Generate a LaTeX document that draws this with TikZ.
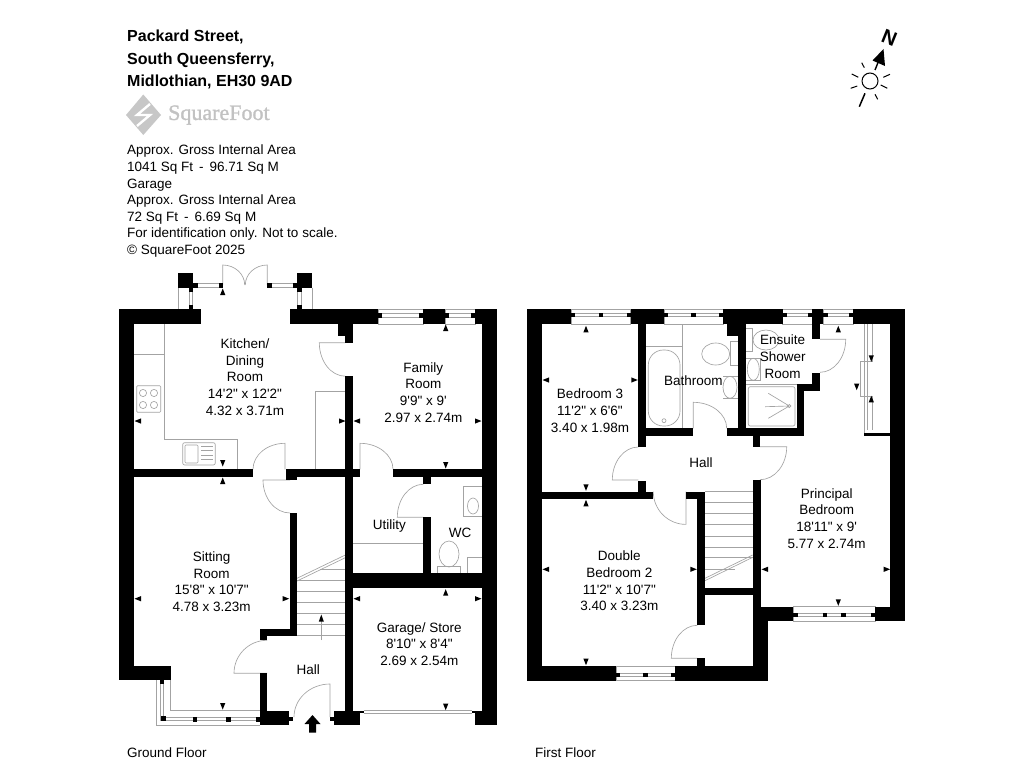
\documentclass[tikz,border=0pt]{standalone}
\usepackage{fontspec}
\setmainfont{Liberation Sans}
\newfontfamily\labelfont{Liberation Sans}
\newfontfamily\logofont[FakeBold=1.2]{Liberation Serif}
\tikzset{
  wall/.style={fill=black},
  fitting/.style={draw=black!36, line width=0.65pt},
  room/.style={align=center, inner sep=0pt, font=\fontsize{13.5}{16.6}\selectfont\labelfont},
  info/.style={align=left, anchor=north west, inner sep=0pt, font=\fontsize{13.5}{16.6}\selectfont\labelfont},
  ray/.style={draw=black, line width=1pt}
}
% door leaf and swing: centre, x radius, y radius, leaf angle, end angle
\newcommand{\swing}[6]{\draw[fitting] (#1,#2) -- ++(#5:#3pt and #4pt) arc[start angle=#5, end angle=#6, x radius=#3pt, y radius=#4pt];}
% dimension tick: position, direction
\newcommand{\tick}[3]{\fill[black, shift={(#1,#2)}, rotate=#3] (3.5pt,0pt) -- (-3pt,2.6pt) -- (-3pt,-2.6pt) -- cycle;}
% window: x from, x to, y top, y bottom, y middle
\newcommand{\winh}[5]{\draw[fitting] (#1,#3) rectangle (#2,#4) (#1,#5-1.7) -- (#2,#5-1.7) (#1,#5+1.7) -- (#2,#5+1.7);}
\newcommand{\jamb}[2]{\fill[black] (#1-2.2,#2-2.2) rectangle (#1+2.2,#2+2.2);}
\begin{document}
\begin{tikzpicture}[x=1pt, y=-1pt]
  \useasboundingbox (0,0) rectangle (1024,768);
  \fill[white] (0,0) rectangle (1024,768);

  % heading
  \node (title) [info, font=\fontsize{16}{22.4}\selectfont\labelfont\bfseries] at (127,30) {Packard Street,\\South Queensferry,\\Midlothian, EH30 9AD};
  \fill[black!22] (143.3,94.5) -- (161,115) -- (143.3,135) -- (126,115) -- cycle;
  \draw[white, line width=2.4pt] (150,104) -- (137,115) -- (150,115) -- (137,126);
  \node (logo) [anchor=west, inner sep=0pt, text=black!24, font=\fontsize{22}{24}\selectfont\logofont] at (168,115) {SquareFoot};
  \node (areas) [info] at (127,145) {Approx. Gross Internal Area\\1041 Sq Ft\,\ -\ \,96.71 Sq M\\Garage\\Approx. Gross Internal Area\\72 Sq Ft\,\ -\ \,6.69 Sq M\\For identification only. Not to scale.\\\textcopyright\ SquareFoot 2025};

  % compass
  \node (north) [rotate=-22, inner sep=0pt, font=\fontsize{20}{20}\selectfont\labelfont\bfseries] at (889.3,37.7) {N};
  \draw[ray] (870,81) circle (8pt);
  \draw[black, line width=1.4pt] (875,70) -- (879,60);
  \fill[black] (883.5,49) -- (885,66) -- (872.5,60.5) -- cycle;
  \draw[ray] (861.7,62.7) -- (864.3,67.7) (851.7,74) -- (858.3,77.3) (850.7,88.3) -- (857.3,86)
    (875,94.3) -- (877.7,99.3) (880.7,85) -- (887.3,88.3) (883.3,77.3) -- (890,74.3);
  \draw[ray, line width=1.5pt] (859.3,106.7) -- (865,93.3);

  % ground floor: fittings
  \draw[fitting] (164,324) -- (164,439.3) -- (237.7,439.3) -- (237.7,469.3);
  \draw[fitting] (134,354.3) -- (164,354.3);
  \draw[fitting, rounded corners=1pt] (136.7,385.7) rectangle (160.7,412.3);
  \draw[fitting] (143,393) circle (3.6pt) (154,393) circle (3.6pt) (143,405) circle (3.6pt) (154,405) circle (3.6pt);
  \draw[fitting, rounded corners=2pt] (182.7,442.7) rectangle (215.3,465);
  \draw[fitting, rounded corners=1pt] (185,445) rectangle (198,463);
  \draw[fitting] (201,446) -- (213,446) (201,450.5) -- (213,450.5) (201,455) -- (213,455) (201,459.5) -- (213,459.5);
  \draw[fitting] (315.7,469.3) -- (315.7,391) -- (345.3,391);
  \draw[fitting] (178.3,287.7) -- (178.3,309.3) (312,287.7) -- (312,309.3);
  \draw[fitting] (193,283.7) -- (222.7,283.7) (193,287) -- (222.7,287) (267.3,283.7) -- (297,283.7) (267.3,287) -- (297,287);
  \draw[fitting] (189.3,287.7) -- (189.3,309.3) (192.7,287.7) -- (192.7,309.3) (297.7,287.7) -- (297.7,309.3) (301,287.7) -- (301,309.3);
  \winh{378}{423}{309.3}{324.3}{315.3}
  \winh{445}{475}{309.3}{324.3}{315.3}
  \draw[fitting] (463.3,486.7) rectangle (482,516.7);
  \draw[fitting] (473,506) ellipse (5.5pt and 8pt);
  \draw[fitting] (449,554) ellipse (10pt and 13pt);
  \draw[fitting] (437.3,566) rectangle (460.7,573.3);
  \draw[fitting] (467.3,557.3) rectangle (482,573.3);
  \draw[fitting] (352.7,543.3) -- (423.3,543.3);
  \draw[fitting] (297,580) -- (345.3,580) (297,591) -- (345.3,591) (297,602.3) -- (345.3,602.3)
    (297,613.3) -- (345.3,613.3) (297,624.3) -- (345.3,624.3) (297,635.7) -- (345.3,635.7) (320,569.3) -- (345.3,569.3);
  \draw[fitting] (297,578.3) -- (345.3,555) (297,581) -- (345.3,557.7);
  \draw[fitting] (321.3,640) -- (321.3,620);
  \fill[black] (321.3,614.5) -- (323.8,621.5) -- (318.8,621.5) -- cycle;
  \draw[fitting] (156,680) -- (156,725.7) -- (260,725.7);
  \draw[fitting] (170,680) -- (170,710) -- (260,710);
  \draw[fitting] (160,680) -- (160,720.7) -- (260,720.7) (163.3,680) -- (163.3,717.3) -- (260,717.3);
  \draw[fitting] (364,710.7) -- (471.7,710.7) (364,713.3) -- (471.7,713.3);

  % ground floor: doors
  \swing{330}{717}{36}{33}{90}{180}
  \swing{267}{673.3}{33}{33}{180}{90}
  \swing{285}{469.3}{32}{26}{90}{180}
  \swing{290}{480}{27}{33}{180}{270}
  \swing{345.3}{342.7}{26}{33.5}{180}{270}
  \swing{360}{469.3}{33}{26}{90}{0}
  \swing{423.3}{517.3}{26}{33}{180}{90}
  \swing{222.7}{285}{22}{20}{90}{0}
  \swing{267.3}{285}{22}{20}{90}{180}

  % ground floor: walls
  \fill[wall] (119,309.3) rectangle (134,680.3);
  \fill[wall] (119,309.3) rectangle (200.7,324.3);
  \fill[wall] (290,309.3) rectangle (378,324.3);
  \fill[wall] (423,309.3) rectangle (445,324.3);
  \fill[wall] (475,309.3) rectangle (497.3,324.3);
  \fill[wall] (482,309.3) rectangle (497.3,725);
  \fill[wall] (119,666) rectangle (171,680.3);
  \fill[wall] (338,324) rectangle (352.7,336);
  \fill[wall] (345.3,324) rectangle (352.7,342.7);
  \fill[wall] (345.3,376.3) rectangle (352.7,713);
  \fill[wall] (134,469.3) rectangle (252.7,476.7);
  \fill[wall] (286,469.3) rectangle (360,476.7);
  \fill[wall] (286,476.7) rectangle (296.7,480);
  \fill[wall] (393.3,469.3) rectangle (482,476.7);
  \fill[wall] (423.3,476.7) rectangle (430.7,484);
  \fill[wall] (423.3,517.3) rectangle (430.7,573.3);
  \fill[wall] (345.3,573.3) rectangle (482,587.7);
  \fill[wall] (289.7,513.3) rectangle (297,636);
  \fill[wall] (260,629) rectangle (297,636);
  \fill[wall] (260,629) rectangle (267.3,640);
  \fill[wall] (260,673.3) rectangle (267.3,725);
  \fill[wall] (260,710.7) rectangle (289.3,725);
  \fill[wall] (289.3,717) rectangle (293.3,720.7);
  \fill[wall] (330,717) rectangle (334,720.7);
  \fill[wall] (334,710.7) rectangle (360,725);
  \fill[wall] (360,710.7) rectangle (364,713.3);
  \fill[wall] (471.7,710.7) rectangle (475,713.3);
  \fill[wall] (475,710.7) rectangle (497.3,725);
  \fill[wall] (178.3,272.7) rectangle (193.3,287.7);
  \fill[wall] (297,272.7) rectangle (312,287.7);
  \jamb{195.5}{285.3} \jamb{221}{285.3} \jamb{269.5}{285.3} \jamb{295}{285.3}
  \jamb{191}{290} \jamb{191}{307} \jamb{299.3}{290} \jamb{299.3}{307}
  \jamb{447}{315.3} \jamb{473}{315.3} \jamb{380}{315.3} \jamb{421}{315.3}
  \jamb{161.7}{682} \jamb{163.5}{718.5} \jamb{195}{719.3} \jamb{228.3}{719.3} \jamb{258.3}{719.3}

  % ground floor: entrance arrow
  \fill[black] (312.5,715) -- (320.5,724) -- (316,724) -- (316,732.7) -- (309,732.7) -- (309,724) -- (304.5,724) -- cycle;

  % ground floor: ticks
  \tick{138}{421}{180} \tick{342}{421}{0} \tick{357}{421}{180} \tick{478}{421}{0}
  \tick{222.7}{292}{90} \tick{222.7}{463}{-90} \tick{222.7}{481}{90}
  \tick{445.7}{328}{90} \tick{445.7}{465}{-90}
  \tick{138}{598.7}{180} \tick{285.7}{598.7}{0} \tick{357}{598.7}{180} \tick{478}{598.7}{0}
  \tick{222.7}{706}{-90} \tick{445.7}{592.7}{90} \tick{445.7}{706.7}{-90}

  % first floor: fittings
  \winh{571}{630.7}{309.3}{324.3}{315}
  \winh{664}{723.3}{309.3}{324.3}{315}
  \winh{782.7}{812.3}{309.3}{324.3}{315}
  \winh{823.3}{853.3}{309.3}{324.3}{315}
  \winh{793.3}{875}{606.7}{621}{615}
  \winh{616}{675}{666}{680.7}{675}
  \draw[fitting] (645.7,346.7) -- (682.3,346.7) (682.3,324.3) -- (682.3,428.3);
  \draw[fitting, rounded corners=15pt] (648.3,350) rectangle (680,426);
  \draw[fitting] (664,420.7) circle (2pt);
  \draw[fitting] (715.7,354) ellipse (14pt and 11pt);
  \draw[fitting] (730,341.7) rectangle (738.3,365);
  \draw[fitting] (730,387.3) ellipse (7pt and 11pt);
  \draw[fitting] (723,376) -- (738.3,376) (723,398.5) -- (738.3,398.5);
  \draw[fitting] (745.7,328.3) rectangle (752.3,351.7);
  \draw[fitting] (766,340) ellipse (13pt and 10pt);
  \draw[fitting] (745.7,358.3) rectangle (760.7,380);
  \draw[fitting] (753.3,369.3) ellipse (6pt and 11pt);
  \draw[fitting] (745.7,384.3) rectangle (797.3,428.3);
  \draw[fitting, rounded corners=2pt] (748.3,386.7) rectangle (795,426);
  \draw[fitting] (789.3,406) circle (1.6pt);
  \draw[fitting] (789.3,406) -- (768.3,393.3) (789.3,406) -- (765,406.7) (789.3,406) -- (768.3,418.3);
  \draw[fitting] (864,324.3) -- (864,433.3);
  \draw[fitting] (867,324.3) -- (867,430);
  \draw[fitting] (872,324.3) -- (872,361.7) -- (860,361.7) -- (860,396) -- (872,396) -- (872,430);
  \draw[fitting] (705,491.7) -- (752.7,491.7) (705,502.3) -- (752.7,502.3) (705,513.3) -- (752.7,513.3)
    (705,524.3) -- (752.7,524.3) (705,536) -- (752.7,536) (705,547.3) -- (752.7,547.3)
    (705,557.7) -- (752.7,557.7) (705,569) -- (735,569);
  \draw[fitting] (705,578.3) -- (752.7,555) (705,580.7) -- (752.7,557.3);

  % first floor: doors
  \swing{693.3}{428.3}{33.4}{26}{90}{0}
  \swing{638.3}{480}{26}{33}{180}{90}
  \swing{760}{446.7}{26.7}{33}{0}{-90}
  \swing{686}{491.7}{32.7}{32.7}{-90}{-180}
  \swing{697.3}{658.3}{26}{33}{180}{90}
  \swing{820}{339.3}{25.7}{33}{0}{-90}

  % first floor: walls
  \fill[wall] (526.7,309.3) rectangle (541.7,680.7);
  \fill[wall] (526.7,309.3) rectangle (571,324.3);
  \fill[wall] (630.7,309.3) rectangle (664,324.3);
  \fill[wall] (723.3,309.3) rectangle (782.7,324.3);
  \fill[wall] (726.7,324.3) rectangle (745.7,335.7);
  \fill[wall] (812.3,309.3) rectangle (823.3,324.3);
  \fill[wall] (853.3,309.3) rectangle (905,324.3);
  \fill[wall] (890,309.3) rectangle (905,621);
  \fill[wall] (638.3,324) rectangle (645.7,446.7);
  \fill[wall] (638.3,480.7) rectangle (645.7,499);
  \fill[wall] (541.7,491.7) rectangle (653.3,499);
  \fill[wall] (638.3,428.3) rectangle (693.3,435.7);
  \fill[wall] (726.7,428.3) rectangle (804.3,435.7);
  \fill[wall] (752.7,435.7) rectangle (760,446.7);
  \fill[wall] (738.3,324) rectangle (745.7,436);
  \fill[wall] (812.3,324) rectangle (820,339.3);
  \fill[wall] (812.3,372.7) rectangle (820,391);
  \fill[wall] (797.3,384.3) rectangle (820,391);
  \fill[wall] (797.3,384.3) rectangle (804.3,435.7);
  \fill[wall] (864,433.3) rectangle (890,435.7);
  \fill[wall] (752.7,480) rectangle (760.7,621);
  \fill[wall] (752.7,606.7) rectangle (793.3,621);
  \fill[wall] (752.7,606.7) rectangle (768.3,680.7);
  \fill[wall] (875,606.7) rectangle (905,621);
  \fill[wall] (526.7,666) rectangle (616,680.7);
  \fill[wall] (675,666) rectangle (768.3,680.7);
  \fill[wall] (697.3,491.7) rectangle (705,625);
  \fill[wall] (686,491.7) rectangle (705,499);
  \fill[wall] (697.3,658.3) rectangle (705,666);
  \fill[wall] (705,587.7) rectangle (752.7,595);
  \jamb{573}{315} \jamb{601}{315} \jamb{629}{315} \jamb{666}{315} \jamb{693.5}{315} \jamb{721}{315}
  \jamb{785}{315} \jamb{810}{315} \jamb{825.5}{315} \jamb{851}{315}
  \jamb{795.5}{615} \jamb{825}{615} \jamb{843.3}{615} \jamb{873}{615}
  \jamb{617.5}{675} \jamb{645.3}{675} \jamb{673.3}{675}

  % first floor: ticks
  \tick{586}{329.3}{90} \tick{838.3}{329.3}{90}
  \tick{546}{380}{180} \tick{634.3}{380}{0}
  \tick{586}{487.3}{-90} \tick{586}{503.3}{90}
  \tick{546}{569.3}{180} \tick{693.3}{569.3}{0} \tick{765}{569.3}{180} \tick{886.7}{569.3}{0}
  \tick{586}{661.7}{-90} \tick{838.3}{602.3}{-90}
  \tick{871.3}{358.3}{-90} \tick{856.7}{386.7}{-90} \tick{871.3}{399.3}{90}

  % room names
  \node (kitchen) [room] at (245,377) {Kitchen/\\Dining\\Room\\14'2" x 12'2"\\4.32 x 3.71m};
  \node (family) [room] at (423.3,392.3) {Family\\Room\\9'9" x 9'\\2.97 x 2.74m};
  \node (sitting) [room] at (211.7,581.7) {Sitting\\Room\\15'8" x 10'7"\\4.78 x 3.23m};
  \node (utility) [room] at (389.3,525.7) {Utility};
  \node (wc) [room] at (460,532.7) {WC};
  \node (garage) [room] at (419.3,644) {Garage/ Store\\8'10" x 8'4"\\2.69 x 2.54m};
  \node (hallG) [room] at (308.3,670) {Hall};
  \node (bedthree) [room] at (590,410.7) {Bedroom 3\\11'2" x 6'6"\\3.40 x 1.98m};
  \node (bathroom) [room] at (693.3,380.7) {Bathroom};
  \node (ensuite) [room] at (782.7,356.7) {Ensuite\\Shower\\Room};
  \node (hallF) [room] at (701,462.7) {Hall};
  \node (principal) [room] at (826.7,518.3) {Principal\\Bedroom\\18'11" x 9'\\5.77 x 2.74m};
  \node (bedtwo) [room] at (619.3,581) {Double\\Bedroom 2\\11'2" x 10'7"\\3.40 x 3.23m};
  \node (groundfloor) [room, anchor=west] at (127,753) {Ground Floor};
  \node (firstfloor) [room, anchor=west] at (535,753) {First Floor};
\end{tikzpicture}
\end{document}
